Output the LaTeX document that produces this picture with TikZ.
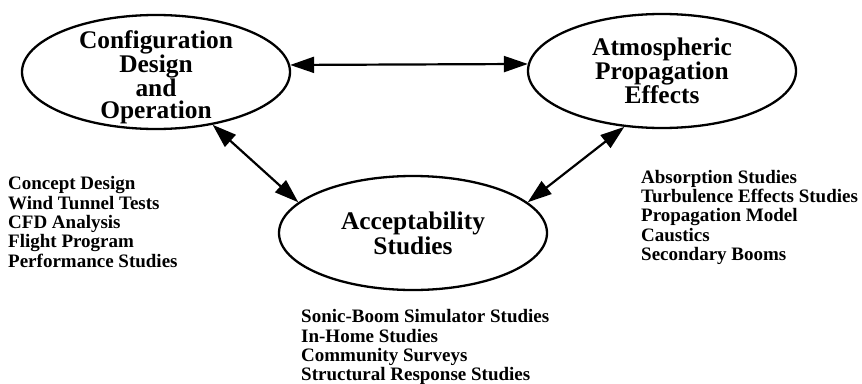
\documentclass[tikz,border=0pt]{standalone}
\usepackage{fontspec}
\setmainfont{Liberation Serif}
\usetikzlibrary{shapes.geometric,arrows.meta}
\begin{document}
\begin{tikzpicture}[x=1pt,y=-1pt,
  bubble/.style={ellipse, draw, line width=2.3pt, minimum width=268pt, minimum height=114pt, inner sep=0pt, align=center},
  link/.style={line width=2.2pt, {Triangle[length=24pt,width=16pt]}-{Triangle[length=24pt,width=16pt]}},
  items/.style={anchor=north west, align=left, inner sep=0pt, font=\bfseries\fontsize{19}{19.3}\selectfont}]
\useasboundingbox (0,0) rectangle (862,383);
\node[bubble, label={[align=center, inner sep=0pt, yshift=-5pt, font=\bfseries\fontsize{25.4}{21.8}\selectfont]center:{Configuration\\Design\\and\\Operation}}] (cfg) at (156,72) {};
\node[bubble, font=\bfseries\fontsize{25.4}{23}\selectfont] (atm) at (662,71) {Atmospheric\\Propagation\\Effects};
\node[bubble, font=\bfseries\fontsize{25.4}{25}\selectfont] (acc) at (413,233) {Acceptability\\Studies};
\draw[link] (cfg.3) -- (atm.177);
\draw[link] (cfg.-43) -- (acc.165);
\draw[link] (atm.236) -- (acc.15);
\node[items] (cfgl) at (8,176.5) {Concept Design\\Wind Tunnel Tests\\CFD Analysis\\Flight Program\\Performance Studies};
\node[items] (atml) at (641,170) {Absorption Studies\\Turbulence Effects Studies\\Propagation Model\\Caustics\\Secondary Booms};
\node[items] (accl) at (301,309.5) {Sonic-Boom Simulator Studies\\In-Home Studies\\Community Surveys\\Structural Response Studies};
\end{tikzpicture}
\end{document}
